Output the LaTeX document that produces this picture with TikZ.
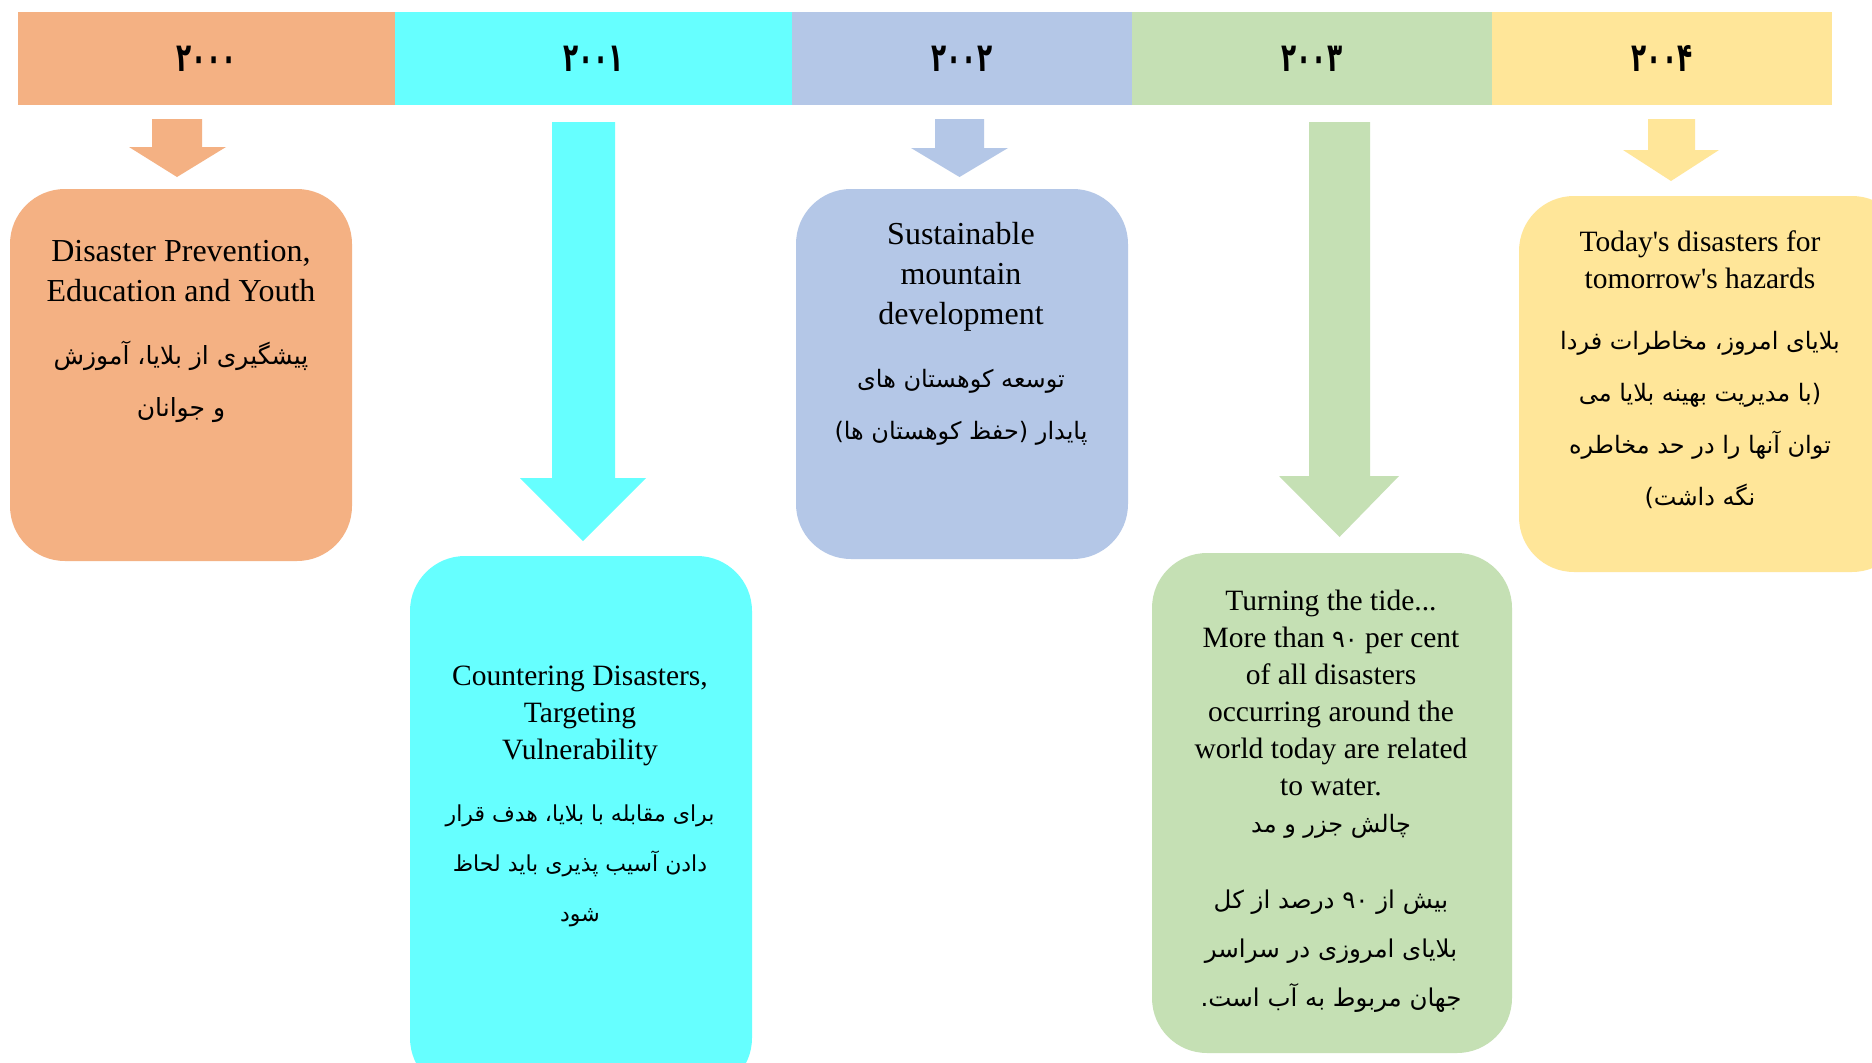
\documentclass[tikz,border=0pt]{standalone}
\usepackage{fontspec}
\setmainfont{Liberation Serif}
\newfontfamily\fa[Script=Arabic]{DejaVu Sans}
\TeXXeTstate=1
\newcommand\faline[1]{\beginR #1\endR}
\newcommand\yearlabel[1]{\scalebox{0.62}[1]{#1}}
\definecolor{corange}{HTML}{F4B183}
\definecolor{ccyan}{HTML}{66FFFF}
\definecolor{cblue}{HTML}{B4C7E7}
\definecolor{cgreen}{HTML}{C5E0B4}
\definecolor{cyellow}{HTML}{FFE699}
\begin{document}
\begin{tikzpicture}[x=1pt,y=-1pt,
  cell/.style={rectangle, minimum height=93pt, inner sep=0pt,
    font=\fa\bfseries\fontsize{40}{44}\selectfont},
  card/.style={rectangle, rounded corners=55pt, inner sep=0pt},
  en/.style={align=center, inner sep=0pt, font=\fontsize{29.5}{37}\selectfont},
  enwide/.style={align=center, inner sep=0pt, font=\fontsize{32}{40}\selectfont},
  fatext/.style={align=center, inner sep=0pt, font=\fa\fontsize{24}{52}\selectfont},
  blockarrow/.style={draw=none}]
\useasboundingbox (0,0) rectangle (1872,1063);
\fill[white] (0,0) rectangle (1872,1063);
\clip (0,0) rectangle (1872,1063);

% year header strip
\node[cell, fill=corange, minimum width=377pt] (y2000) at (206.5,58.5) {\yearlabel{۲۰۰۰}};
\node[cell, fill=ccyan,   minimum width=397pt] (y2001) at (593.5,58.5) {\yearlabel{۲۰۰۱}};
\node[cell, fill=cblue,   minimum width=340pt] (y2002) at (962,58.5)   {\yearlabel{۲۰۰۲}};
\node[cell, fill=cgreen,  minimum width=360pt] (y2003) at (1312,58.5)  {\yearlabel{۲۰۰۳}};
\node[cell, fill=cyellow, minimum width=340pt] (y2004) at (1662,58.5)  {\yearlabel{۲۰۰۴}};

% block arrows from the years down to the cards
\fill[blockarrow, corange] (152,119) -- (202,119) -- (202,147) -- (226,147)
  -- (177,177) -- (129,147) -- (152,147) -- cycle;
\fill[blockarrow, ccyan] (552,122) -- (615,122) -- (615,478) -- (646,478)
  -- (583,541) -- (520,478) -- (552,478) -- cycle;
\fill[blockarrow, cblue] (935,119) -- (984,119) -- (984,148) -- (1008,148)
  -- (959.5,177) -- (911,148) -- (935,148) -- cycle;
\fill[blockarrow, cgreen] (1309,122) -- (1370,122) -- (1370,476) -- (1399,476)
  -- (1339.5,537) -- (1279,476) -- (1309,476) -- cycle;
\fill[blockarrow, cyellow] (1648,119) -- (1695,119) -- (1695,150) -- (1719,150)
  -- (1671,181) -- (1623,150) -- (1648,150) -- cycle;

% cards
\node[card, fill=corange, minimum width=342pt, minimum height=372pt] (c2000) at (181,375) {};
\node[card, fill=ccyan,   minimum width=342pt, minimum height=537pt] (c2001) at (581,824.5) {};
\node[card, fill=cblue,   minimum width=332pt, minimum height=370pt] (c2002) at (962,374) {};
\node[card, fill=cgreen,  minimum width=360pt, minimum height=500pt] (c2003) at (1332,803) {};
\node[card, fill=cyellow, minimum width=388pt, minimum height=376pt] (c2004) at (1713,384) {};

% 2000
\node[enwide] (e2000) at (181,271) {Disaster Prevention,\\Education and Youth};
\node[fatext, font=\fa\fontsize{25}{52}\selectfont] (f2000) at (181,382) {\faline{پیشگیری از بلایا، آموزش}\\\faline{و جوانان}};

% 2001
\node[en] (e2001) at (580,716) {Countering Disasters,\\Targeting\\Vulnerability};
\node[fatext, font=\fa\fontsize{22}{50}\selectfont] (f2001) at (580,866) {\faline{برای مقابله با بلایا، هدف قرار}\\\faline{دادن آسیب پذیری باید لحاظ}\\\faline{شود}};

% 2002
\node[enwide] (e2002) at (961,277) {Sustainable\\mountain\\development};
\node[fatext] (f2002) at (961,407) {\faline{توسعه کوهستان های}\\\faline{پایدار (حفظ کوهستان ها)}};

% 2003
\node[en] (e2003) at (1331,693) {Turning the tide...\\More than {\fa\fontsize{24}{37}\selectfont ۹۰} per cent\\of all disasters\\occurring around the\\world today are related\\to water.};
\node[fatext] (g2003) at (1331,826) {\faline{چالش جزر و مد}};
\node[fatext, font=\fa\fontsize{24.5}{49}\selectfont] (f2003) at (1331,951) {\faline{بیش از ۹۰ درصد از کل}\\\faline{بلایای امروزی در سراسر}\\\faline{جهان مربوط به آب است.}};

% 2004
\node[en] (e2004) at (1700,260) {Today\textquotesingle s disasters for\\tomorrow\textquotesingle s hazards};
\node[fatext] (f2004) at (1700,420) {\faline{بلایای امروز، مخاطرات فردا}\\\faline{(با مدیریت بهینه بلایا می}\\\faline{توان آنها را در حد مخاطره}\\\faline{نگه داشت)}};
\end{tikzpicture}
\end{document}
